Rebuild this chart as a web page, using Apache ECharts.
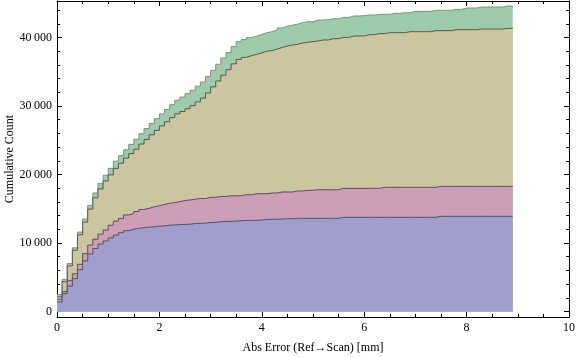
<!DOCTYPE html>
<html>
<head>
<meta charset="utf-8">
<script src="https://cdn.jsdelivr.net/npm/echarts@6/dist/echarts.min.js"></script>
<style>
  html, body { margin: 0; padding: 0; background: #fff; }
  #chart { width: 576px; height: 357px; }
</style>
</head>
<body>
<div id="chart"></div>
<script>
// cumulative counts per 0.1 mm bin (bins start at 0.0, 0.1, ... 8.8)
var binWidth = 0.1;

var blue = [
  1400, 2600, 3700, 4800, 6100, 7400, 8400, 9200, 9850, 10300,
  10750, 11150, 11500, 11800, 12000, 12140, 12240, 12300, 12380, 12480,
  12500, 12600, 12630, 12700, 12720, 12750, 12850, 12870, 12900, 13000,
  13020, 13100, 13160, 13160, 13200, 13260, 13300, 13310, 13310, 13350,
  13450, 13460, 13460, 13500, 13550, 13550, 13600, 13600, 13600, 13600,
  13600, 13600, 13600, 13600, 13600, 13750, 13750, 13750, 13750, 13750,
  13750, 13750, 13750, 13750, 13750, 13750, 13750, 13750, 13750, 13750,
  13750, 13750, 13750, 13750, 13900, 13900, 13900, 13900, 13900, 13900,
  13900, 13900, 13900, 13900, 13900, 13900, 13900, 13900, 13900
];

var pink = [
  1800, 2900, 4500, 5500, 6900, 8450, 9700, 10550, 11300, 11900,
  12600, 13200, 13600, 14100, 14300, 14600, 14900, 15060, 15300, 15450,
  15650, 15800, 15900, 16030, 16200, 16280, 16400, 16500, 16500, 16670,
  16670, 16800, 16800, 16900, 16900, 16900, 17050, 17050, 17200, 17200,
  17200, 17300, 17300, 17450, 17450, 17450, 17600, 17600, 17700, 17700,
  17780, 17780, 17780, 17780, 17780, 17980, 17980, 17980, 17980, 17980,
  17980, 17980, 17980, 18130, 18130, 18130, 18130, 18130, 18130, 18130,
  18130, 18130, 18130, 18130, 18270, 18270, 18270, 18270, 18270, 18270,
  18270, 18270, 18270, 18270, 18270, 18270, 18270, 18270, 18270
];

var khaki = [
  2150, 4350, 6650, 8950, 11200, 13050, 14950, 16600, 17900, 19050,
  19950, 20900, 21650, 22400, 23050, 23700, 24450, 25100, 25800, 26450,
  27100, 27700, 28300, 28850, 29200, 29600, 30050, 30600, 31150, 31900,
  32800, 33650, 34500, 35300, 36150, 36800, 37100, 37350, 37550, 37750,
  38000, 38100, 38300, 38550, 38750, 38900, 39000, 39200, 39300, 39390,
  39500, 39640, 39640, 39830, 39830, 40020, 40020, 40220, 40220, 40220,
  40410, 40410, 40560, 40560, 40710, 40710, 40710, 40710, 40850, 40850,
  40850, 40850, 40850, 41000, 41000, 41000, 41000, 41140, 41140, 41140,
  41140, 41140, 41240, 41240, 41240, 41240, 41240, 41340, 41340
];

var green = [
  2500, 4700, 7000, 9300, 11600, 13500, 15500, 17300, 18700, 19900,
  20900, 21950, 22750, 23600, 24400, 25150, 25950, 26700, 27450, 28150,
  28850, 29500, 30200, 30850, 31300, 31800, 32300, 32900, 33500, 34300,
  35200, 36100, 37000, 37800, 38700, 39400, 39700, 40000, 40200, 40450,
  40700, 40850, 41100, 41400, 41650, 41800, 41950, 42170, 42310, 42310,
  42550, 42550, 42600, 42750, 42750, 42940, 42940, 43140, 43140, 43200,
  43280, 43280, 43380, 43380, 43380, 43530, 43530, 43620, 43620, 43820,
  43820, 43820, 43820, 43970, 43970, 43970, 43970, 44110, 44110, 44310,
  44310, 44310, 44450, 44450, 44450, 44450, 44450, 44600, 44600
];

var yMajorTicks = [0, 10000, 20000, 30000, 40000];
var yMinorTicks = [2000, 4000, 6000, 8000, 12000, 14000, 16000, 18000,
  22000, 24000, 26000, 28000, 32000, 34000, 36000, 38000, 42000, 44000];

var font = 'Liberation Serif';

function toSteps(vals) {
  var d = vals.map(function(v, i) {
    return [+(i * binWidth).toFixed(1), v];
  });
  d.push([+(vals.length * binWidth).toFixed(1), vals[vals.length - 1]]);
  return d;
}

function fmt(v) {
  return String(v).replace(/\B(?=(\d{3})+(?!\d))/g, '\u2009');
}

var frameLine = { show: true, onZero: false, lineStyle: { color: '#000', width: 1 } };

function xAxisOf(pos, withLabels) {
  return {
    type: 'value', position: pos, min: 0, max: 10, interval: 2,
    axisLine: frameLine,
    axisTick: { show: true, inside: true, length: 5, lineStyle: { color: '#000' } },
    minorTick: { show: true, splitNumber: 4, length: 3, lineStyle: { color: '#000' } },
    splitLine: { show: false },
    minorSplitLine: { show: false },
    axisLabel: { show: withLabels, color: '#000', fontFamily: font, fontSize: 12, margin: 5 }
  };
}

function yAxisOf(pos, ticks, len, withLabels) {
  return {
    type: 'value', position: pos, min: -800, max: 45330,
    axisLine: frameLine,
    axisTick: { show: true, inside: true, length: len, customValues: ticks, lineStyle: { color: '#000' } },
    splitLine: { show: false },
    axisLabel: {
      show: withLabels, customValues: ticks, formatter: fmt,
      color: '#000', fontFamily: font, fontSize: 12, margin: 5
    }
  };
}

var yLeft = yAxisOf('left', yMajorTicks, 5, true);
yLeft.name = 'Cumulative Count';
yLeft.nameLocation = 'middle';
yLeft.nameGap = 41;
yLeft.nameMoveOverlap = false;
yLeft.nameTextStyle = { color: '#000', fontFamily: font, fontSize: 12 };

var xBottom = xAxisOf('bottom', true);
xBottom.name = 'Abs Error (Ref\u2192Scan) [mm]';
xBottom.nameLocation = 'middle';
xBottom.nameGap = 25;
xBottom.nameMoveOverlap = false;
xBottom.nameTextStyle = { color: '#000', fontFamily: font, fontSize: 12 };

function layer(name, vals, fill, edge, z) {
  return {
    name: name, type: 'line', step: 'end', z: z,
    xAxisIndex: 0, yAxisIndex: 0,
    symbol: 'none', showSymbol: false,
    data: toSteps(vals),
    lineStyle: { color: edge, width: 1 },
    areaStyle: { color: fill, opacity: 1, origin: 'auto' },
    emphasis: { disabled: true }
  };
}

var chart = echarts.init(document.getElementById('chart'));

chart.setOption({
  animation: false,
  backgroundColor: '#fff',
  grid: { left: 57, right: 7, top: 1, bottom: 40, containLabel: false, outerBoundsMode: 'none' },
  xAxis: [xBottom, xAxisOf('top', false)],
  yAxis: [
    yLeft,
    yAxisOf('left', yMinorTicks, 3, false),
    yAxisOf('right', yMajorTicks, 5, false),
    yAxisOf('right', yMinorTicks, 3, false)
  ],
  series: [
    layer('green', green, '#9ecbaa', '#858c86', 2),
    layer('khaki', khaki, '#ccc6a0', '#4f5a52', 3),
    layer('pink', pink, '#cc9eb8', '#5a5058', 4),
    layer('blue', blue, '#a09ecc', '#55525e', 5)
  ]
});
</script>
</body>
</html>
